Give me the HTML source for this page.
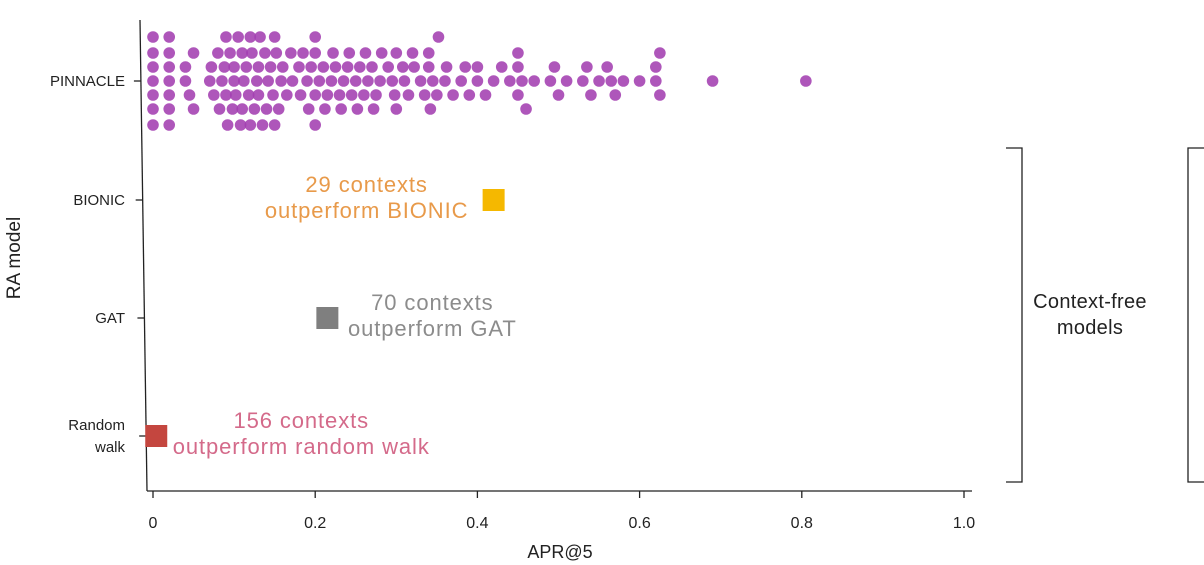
<!DOCTYPE html>
<html><head><meta charset="utf-8"><style>
html,body{margin:0;padding:0;background:#fff;}
svg{display:block;font-family:"Liberation Sans",sans-serif;}
</style></head><body>
<svg id="chart" width="1204" height="565" viewBox="0 0 1204 565">
<g id="axes"></g>
<g id="marks"></g>
<g fill="none" stroke="#222" stroke-width="1.3">
<polyline points="1006,148 1022,148 1022,482 1006,482"/>
<polyline points="1204,148 1188,148 1188,482 1204,482"/>
</g>
<text x="1090" y="308" font-size="20" letter-spacing="0.3" text-anchor="middle" fill="#222">Context-free</text>
<text x="1090" y="334" font-size="20" letter-spacing="0.3" text-anchor="middle" fill="#222">models</text>
</svg>
<script>
const models = ["PINNACLE","BIONIC","GAT","Random walk"];
const modelScores = [null, 0.42, 0.215, 0.004];
const modelColors = [null, "#f5b800", "#7f7f7f", "#c4463f"];
const annotationLines = [null, ["29 contexts","outperform BIONIC"], ["70 contexts","outperform GAT"], ["156 contexts","outperform random walk"]];
const annotationColors = [null, "#e89a4a", "#8c8c8c", "#d46a8a"];
const xTicks = [0,0.2,0.4,0.6,0.8,1.0];
const xTickLabels = ["0","0.2","0.4","0.6","0.8","1.0"];
const pinnacleScores = [0,0,0,0,0,0,0,0.02,0.02,0.02,0.02,0.02,0.02,0.02,0.04,0.04,0.045,0.05,0.05,
0.07,0.075,0.08,0.085,0.09,0.09,0.095,0.1,0.1,0.105,0.11,0.11,0.115,0.12,0.12,0.125,0.13,0.13,0.135,0.14,0.145,0.15,0.15,0.155,0.16,0.165,0.17,0.18,0.185,0.19,0.195,0.2,0.2,0.2,0.2,0.205,0.21,0.215,0.22,0.225,0.23,0.235,0.24,0.245,0.25,0.255,0.26,0.265,0.27,0.275,0.28,0.29,0.295,0.3,0.3,0.31,0.315,0.32,0.33,0.335,0.34,0.34,0.345,0.35,0.36,0.37,0.38,0.385,0.39,0.4,0.4,0.41,0.42,0.43,0.44,0.45,0.45,0.45,0.455,0.46,0.47,0.49,0.495,0.5,0.51,0.53,0.535,0.54,0.55,0.56,0.565,0.57,0.58,0.6,0.62,0.62,0.625,0.625,0.69,0.805,
0.072,0.082,0.092,0.098,0.108,0.118,0.128,0.138,0.148,0.158,0.172,0.182,0.192,0.212,0.222,0.232,0.242,0.252,0.262,0.272,0.282,0.298,0.308,0.322,0.342,0.352,0.362,0.112,0.122,0.142,0.152,0.088,0.102,0.132];

const NS="http://www.w3.org/2000/svg";
const x = v => 153 + v*811;
const rowY = [81,200,318,436];
function mk(tag, attrs, parent){const e=document.createElementNS(NS,tag);for(const k in attrs)e.setAttribute(k,attrs[k]);parent.appendChild(e);return e;}
const axes=document.getElementById('axes'), marks=document.getElementById('marks');

let el=mk('line',{x1:140,y1:20,x2:147,y2:491,stroke:'#222','stroke-width':1.3},axes);


el=mk('line',{x1:147,y1:491,x2:972,y2:491,stroke:'#222','stroke-width':1.3},axes);


xTicks.forEach((t,i)=>{
  const tk=mk('line',{x1:x(t),y1:491,x2:x(t),y2:498,stroke:'#222','stroke-width':1.3},axes);
  
  
  const tl=mk('text',{x:x(t),y:528,'font-size':16,'text-anchor':'middle',fill:'#222'},axes);
  tl.textContent=xTickLabels[i];
  
  
});
el=mk('text',{x:560,y:558,'font-size':18,'text-anchor':'middle',fill:'#222'},axes);
el.textContent='APR@5';


el=mk('text',{x:0,y:0,'font-size':19,'text-anchor':'middle',fill:'#222',transform:'translate(20,258) rotate(-90)'},axes);
el.textContent='RA model';



models.forEach((m,i)=>{
  const y=rowY[i], ax=140+7*(y-20)/471;
  const tk=mk('line',{x1:ax-7,y1:y,x2:ax,y2:y,stroke:'#222','stroke-width':1.3},axes);
  
  
  if(m==="Random walk"){
    ["Random","walk"].forEach((w,j)=>{
      const t=mk('text',{x:125,y:y-6+j*22,'font-size':15,'text-anchor':'end',fill:'#222'},axes);
      t.textContent=w;
      
      
    });
  } else {
    const t=mk('text',{x:125,y:y+5,'font-size':15,'text-anchor':'end',fill:'#222'},axes);
    t.textContent=m;
    
    
  }
});

// beeswarm capped at 7 rows
const placed=[]; const sorted=pinnacleScores.slice().sort((a,b)=>a-b);
const offs=[0,-14,14,-28,28,-44,44];
sorted.forEach(v=>{
  const cx=x(v); let oy=null, best=-1, bestO=0;
  for(const o of offs){
    const same=placed.filter(p=>p[1]===o);
    const md=same.length?Math.min(...same.map(p=>Math.abs(p[0]-cx))):999;
    if(md>=11){oy=o;break;}
    if(md>best){best=md;bestO=o;}
  }
  if(oy===null) oy=bestO;
  placed.push([cx,oy]);
  const c=mk('circle',{cx:cx,cy:rowY[0]+oy,r:5.8,fill:'#a33fb0','fill-opacity':0.88},marks);
  
  
});

const annCenters=[null,-127,105,145];
for(let i=1;i<models.length;i++){
  const cx=x(modelScores[i]), cy=rowY[i];
  const r=mk('rect',{x:cx-11,y:cy-11,width:22,height:22,fill:modelColors[i]},marks);
  
  
  annotationLines[i].forEach((ln,j)=>{
    const t=mk('text',{x:cx+annCenters[i],y:cy-8+j*26,'font-size':22,'letter-spacing':0.9,'text-anchor':'middle',fill:annotationColors[i]},marks);
    t.textContent=ln;
    
    
  });
}
</script>
</body></html>
